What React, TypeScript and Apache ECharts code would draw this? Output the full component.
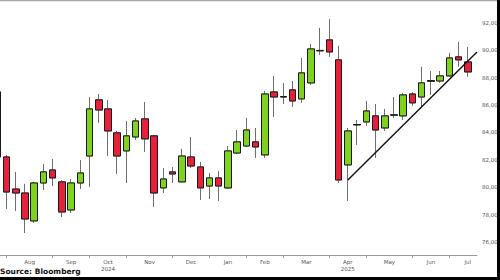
import React, { useEffect, useRef } from "react";
import * as echarts from "echarts";

// Weekly periods (week ending Saturday); the last one is an empty slot at the right edge
const weeks = [
  "2024-07-27",
  "2024-08-03", "2024-08-10", "2024-08-17", "2024-08-24", "2024-08-31",
  "2024-09-07", "2024-09-14", "2024-09-21", "2024-09-28",
  "2024-10-05", "2024-10-12", "2024-10-19", "2024-10-26",
  "2024-11-02", "2024-11-09", "2024-11-16", "2024-11-23", "2024-11-30",
  "2024-12-07", "2024-12-14", "2024-12-21", "2024-12-28",
  "2025-01-04", "2025-01-11", "2025-01-18", "2025-01-25",
  "2025-02-01", "2025-02-08", "2025-02-15", "2025-02-22",
  "2025-03-01", "2025-03-08", "2025-03-15", "2025-03-22", "2025-03-29",
  "2025-04-05", "2025-04-12", "2025-04-19", "2025-04-26",
  "2025-05-03", "2025-05-10", "2025-05-17", "2025-05-24", "2025-05-31",
  "2025-06-07", "2025-06-14", "2025-06-21", "2025-06-28",
  "2025-07-05", "2025-07-12", "2025-07-19", "2025-07-26",
];

const opens = [
  86960, 82210, 79870, 79580, 77540, 80310, 81260, 80390, 78340, 80310,
  82280, 86380, 85720, 83970, 82650, 83670, 84990, 83750, 79950, 81120,
  80390, 82210, 81480, 80090, 80680, 79950, 82500, 83010, 83310, 82360,
  86960, 86590, 87110, 86450, 87620, 89960, 90760, 89300, 81630, 84550,
  84770, 85210, 84330, 85260, 85210, 86810, 86590, 87790, 87760, 88130,
  89520, 89150,
];
const closes = [
  82210, 79650, 79580, 77680, 80310, 81120, 80680, 78190, 80310, 81040,
  85720, 85640, 84110, 82280, 83750, 84840, 83530, 79580, 80600, 80970,
  82280, 81550, 79950, 80680, 80090, 82650, 83310, 84180, 82940, 86810,
  86590, 86620, 86300, 88350, 90100, 89990, 89880, 80530, 84110, 84580,
  85570, 84180, 85210, 85290, 86740, 86160, 87620, 87740, 88130, 89440,
  89300, 88420,
];
const lows = [
  81900, 78410, 78270, 76660, 77390, 79800, 80090, 77830, 78120, 79870,
  80020, 84700, 82280, 80970, 80310, 83450, 82580, 78560, 79580, 80310,
  80350, 81410, 79070, 79140, 79000, 79880, 82430, 82940, 82140, 82140,
  85130, 86080, 85860, 86160, 87470, 89660, 89520, 80310, 79000, 83090,
  84480, 82140, 84110, 85060, 84910, 85940, 85790, 86740, 87620, 88060,
  88790, 88060,
];
const highs = [
  87300, 82360, 81120, 80240, 80390, 81700, 82070, 80530, 80600, 81990,
  86590, 86810, 86380, 84110, 84840, 85060, 86230, 83820, 81410, 81480,
  82800, 83670, 81850, 81040, 81190, 83010, 84180, 85060, 84330, 87030,
  88130, 87620, 87760, 89440, 90470, 91640, 92290, 90320, 84330, 84910,
  86300, 86080, 85720, 86590, 86900, 86960, 88790, 88490, 88490, 89810,
  90610, 90250,
];

const monthNames = ["Jan", "Feb", "Mar", "Apr", "May", "Jun", "Jul", "Aug", "Sep", "Oct", "Nov", "Dec"];
const yearLabelMonths: Record<string, string> = { "2024-10": "2024", "2025-04": "2025" };
const yTickLabels = [76000, 78000, 80000, 82000, 84000, 86000, 88000, 90000, 92000];
const yMinorTicks = [76000, 77000, 78000, 79000, 80000, 81000, 82000, 83000, 84000, 85000, 86000, 87000, 88000, 89000, 90000, 91000, 92000, 93000];

const trendDates = ["2025-04-19", "2025-07-26"];
const trendValues = [80530, 89880];

const RED = "#e8203c";
const GREEN = "#7fd31e";

export default function App() {
  const ref = useRef<HTMLDivElement>(null);

  useEffect(() => {
    if (!ref.current) return;
    const chart = echarts.init(ref.current, undefined, { renderer: "svg" });

    // month boundaries (first week of each month)
    const bounds: number[] = [];
    for (let j = 1; j < weeks.length; j++) {
      if (weeks[j].slice(0, 7) !== weeks[j - 1].slice(0, 7)) bounds.push(j);
    }
    const mids: number[] = [];
    const midLabel: Record<string, string> = {};
    for (let k = 0; k < bounds.length; k++) {
      const start = bounds[k];
      const end = k + 1 < bounds.length ? bounds[k + 1] : weeks.length;
      const mid = (start + end) / 2;
      mids.push(mid);
      const ym = weeks[start].slice(0, 7);
      const m = parseInt(ym.slice(5, 7), 10);
      const yr = yearLabelMonths[ym];
      midLabel[String(mid)] = monthNames[m - 1] + (yr ? "\n" + yr : "");
    }

    const candleData = opens.map((o, i) => [o, closes[i], lows[i], highs[i]]);
    const bodyData = opens.map((o, i) => [o, closes[i], Math.min(o, closes[i]), Math.max(o, closes[i])]);

    const font = "DejaVu Sans";

    chart.setOption({
      animation: false,
      grid: {
        left: -2.7,
        right: 23,
        top: 1,
        bottom: 25,
        containLabel: false,
        outerBoundsMode: "none",
      },
      xAxis: [
        {
          type: "category",
          data: weeks,
          boundaryGap: false,
          position: "bottom",
          axisLine: { show: true, lineStyle: { color: "#9a9a9a", width: 1 } },
          axisTick: { show: false },
          axisLabel: { show: false },
          splitLine: { show: false },
        },
        {
          type: "value",
          min: 0,
          max: weeks.length - 1,
          position: "bottom",
          axisLine: { show: false },
          axisTick: {
            show: true,
            customValues: bounds,
            length: 3,
            lineStyle: { color: "#9a9a9a" },
          },
          axisLabel: {
            show: true,
            customValues: mids,
            formatter: (v: number) => midLabel[String(v)] || "",
            fontFamily: font,
            fontSize: 5.5,
            color: "#555",
            margin: 3,
            lineHeight: 7,
          },
          splitLine: { show: false },
        },
      ],
      yAxis: {
        type: "value",
        position: "right",
        min: 75050,
        max: 93600,
        scale: true,
        axisLine: { show: true, lineStyle: { color: "#9a9a9a", width: 1 } },
        axisTick: {
          show: true,
          inside: false,
          length: 2,
          customValues: yMinorTicks,
          lineStyle: { color: "#666" },
        },
        axisLabel: {
          show: true,
          customValues: yTickLabels,
          formatter: (v: number) => v.toLocaleString("en-US"),
          fontFamily: font,
          fontSize: 5.5,
          color: "#555",
          margin: 5,
        },
        splitLine: { show: false },
      },
      series: [
        {
          type: "candlestick",
          data: candleData,
          barWidth: 7,
          itemStyle: {
            color: GREEN,
            color0: RED,
            borderColor: "#6e6e6e",
            borderColor0: "#6e6e6e",
            borderWidth: 1,
          },
        },
        {
          type: "candlestick",
          data: bodyData,
          barWidth: 7,
          itemStyle: {
            color: GREEN,
            color0: RED,
            borderColor: "#1a1a1a",
            borderColor0: "#1a1a1a",
            borderWidth: 1,
          },
        },
        {
          type: "line",
          data: trendDates.map((d, i) => [d, trendValues[i]]),
          symbol: "none",
          clip: false,
          lineStyle: { color: "#111", width: 1.4 },
          z: 5,
        },
      ],
      graphic: [
        {
          type: "line",
          z: 100,
          shape: { x1: 0, y1: 0.5, x2: 498, y2: 0.5 },
          style: { stroke: "#a8a8a8", lineWidth: 1.5 },
        },
        {
          type: "text",
          z: 100,
          left: 0,
          top: 267,
          style: {
            text: "Source: Bloomberg",
            fontFamily: font,
            fontWeight: "bold",
            fontSize: 7.5,
            fill: "#111",
          },
        },
        {
          type: "rect",
          z: 100,
          shape: { x: 0, y: 277, width: 500, height: 3 },
          style: { fill: "#000" },
        },
        {
          type: "rect",
          z: 100,
          shape: { x: 497, y: 0, width: 3, height: 280 },
          style: { fill: "#000" },
        },
      ],
    });

    return () => chart.dispose();
  }, []);

  return (
    <div
      ref={ref}
      style={{ position: "fixed", left: 0, top: 0, width: 500, height: 280, background: "#fff" }}
    />
  );
}
